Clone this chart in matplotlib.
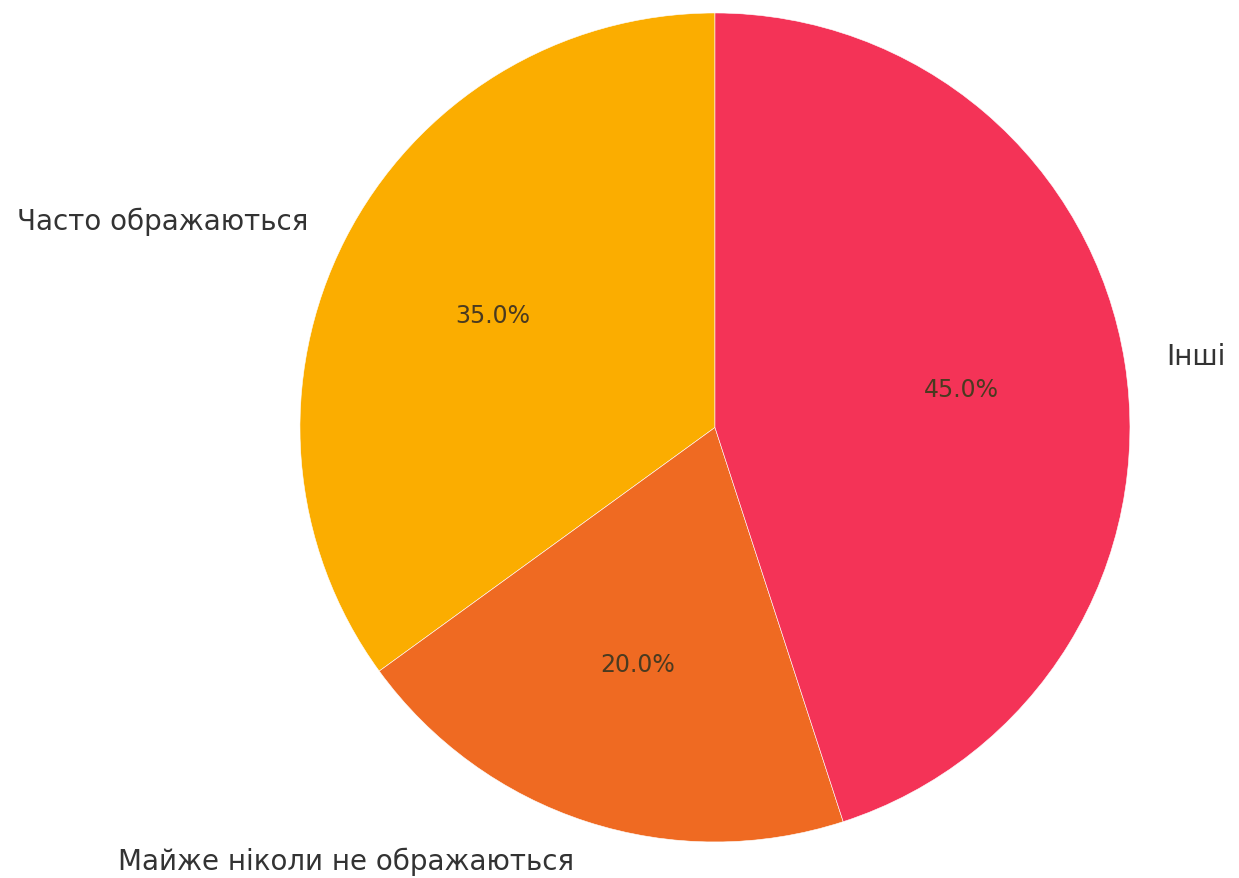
import matplotlib.pyplot as plt

# Survey shares
labels = ['Часто ображаються', 'Майже ніколи не ображаються', 'Інші']
shares = [35, 20, 45]
colors = ['#FBAD00', '#EF6A22', '#F43357']

fig = plt.figure(figsize=(12.39, 8.79), dpi=100)
ax = fig.add_axes([0.2421, 0.0410, 0.6699, 0.9431])

wedges, texts, autotexts = ax.pie(
    shares, labels=labels, colors=colors, autopct='%1.1f%%',
    startangle=90, counterclock=True,
    wedgeprops={'edgecolor': 'white', 'linewidth': 0.4},
    textprops={'fontsize': 20, 'color': '#333333'},
)
for t in autotexts:
    t.set_color('#4a3a20')
    t.set_fontsize(17)

ax.set_xlim(-1, 1)
ax.set_ylim(-1, 1)
ax.set_aspect('auto')

fig.savefig('out.png', dpi=100, facecolor='white')
